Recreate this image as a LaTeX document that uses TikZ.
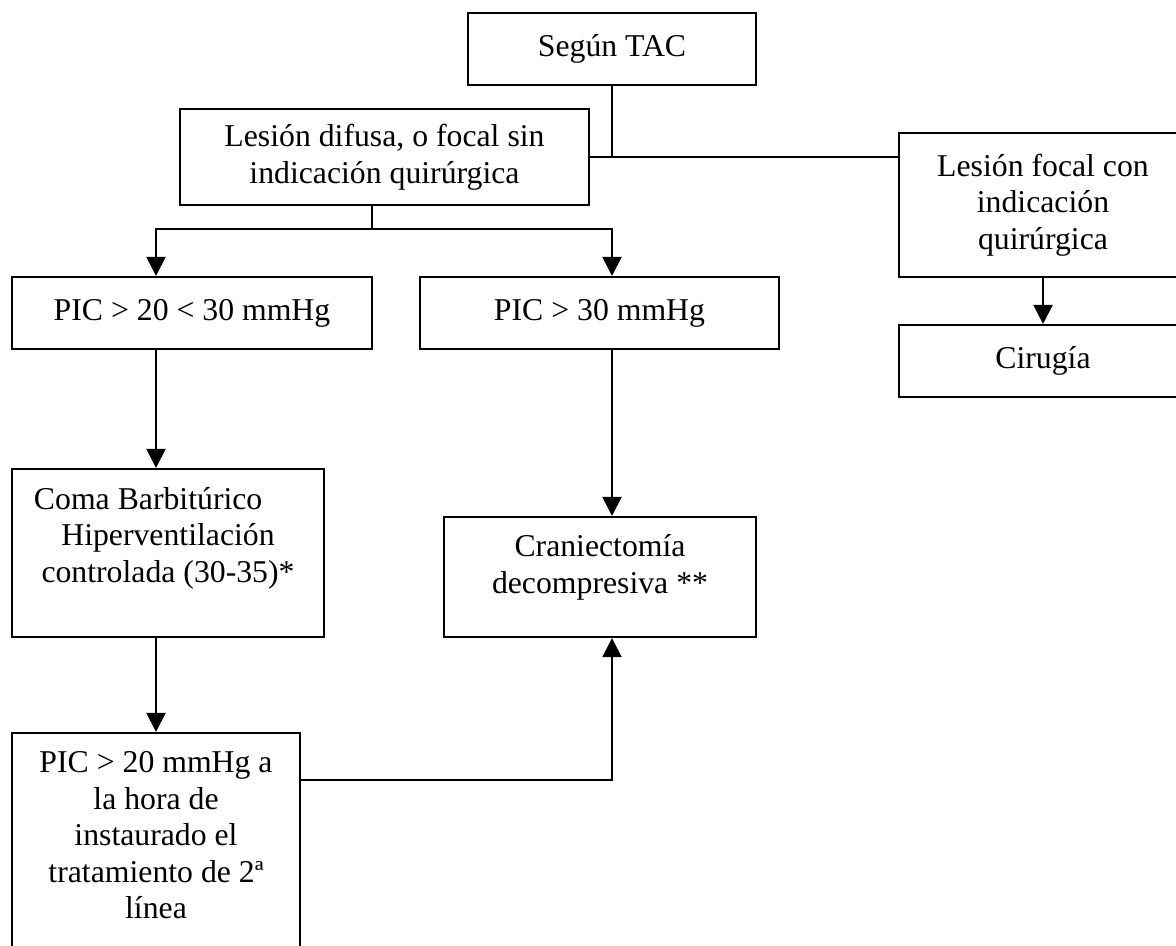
\documentclass[tikz,border=0pt]{standalone}
\usepackage{fontspec}
\setmainfont{Liberation Serif}
\usepackage{tikz}
\usetikzlibrary{arrows.meta}
\usetikzlibrary{positioning}
\usetikzlibrary{calc}
\def\u{0.378pt}
\tikzstyle{box}=[rectangle,draw=black,line width=0.8pt,inner sep=0pt,align=center,font=\fontsize{12}{13.8}\selectfont]
\tikzstyle{link} = [draw,line width=0.8pt]
\tikzstyle{flow} = [draw,line width=0.8pt,-{Triangle[length=7.2pt,width=7.2pt]}]

\begin{document}
\begin{tikzpicture}[x=\u, y=-\u]

  \clip (0,0) rectangle (1176,945);

   \foreach \x/\y/\w/\h/\name/\txt in {
        612/49/288/72/tac/{Según TAC},
        384.5/157/409/96/difusa/{Lesión difusa, o focal sin\\indicación quirúrgica},
        1043/205/288/144/focal/{Lesión focal con\\indicación\\quirúrgica},
        1043/361/288/72/cirugia/{Cirugía},
        192/313/360/72/picA/{PIC > 20 < 30 mmHg},
        599.5/313/359/72/picB/{PIC > 30 mmHg},
        168/553/312/168/coma/{Coma Barbitúrico\hspace*{15pt}\\Hiperventilación\\controlada (30-35)*\\~},
        600/577/312/120/cranie/{Craniectomía\\decompresiva **\\[-4pt]~},
        156/843/288/220/refract/{PIC > 20 mmHg a\\la hora de\\instaurado el\\tratamiento de 2ª\\línea\\[-8pt]~}}
          \node[box, minimum width=\w*\u, minimum height=\h*\u] (\name) at (\x,\y) {\txt};

  \coordinate (colL) at (156,0);
  \coordinate (colR) at (612,0);
  \coordinate (split) at (372,229);

  % top branch
  \draw[link] (tac.south) -- (tac.south |- difusa.east);
  \draw[link] (difusa.east) -- (focal.west |- difusa.east);
  \draw[flow] (focal.south) -- (cirugia.north);

  % PIC branches
  \draw[link] (split |- difusa.south) -- (split);
  \draw[flow] (split) -| (picA.north -| colL);
  \draw[flow] (split) -| (picB.north -| colR);
  \draw[flow] (picA.south -| colL) -- (coma.north -| colL);
  \draw[flow] (picB.south -| colR) -- (cranie.north -| colR);
  \draw[flow] (coma.south -| colL) -- (refract.north);
  \draw[flow] ($(refract.north east)+(0,48)$) -| (cranie.south -| colR);

\end{tikzpicture}
\end{document}
